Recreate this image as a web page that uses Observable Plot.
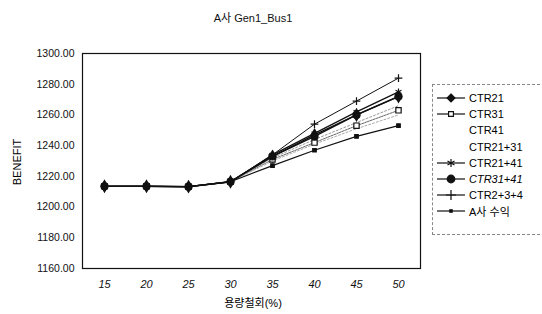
<!DOCTYPE html>
<html><head><meta charset="utf-8">
<script src="https://cdn.jsdelivr.net/npm/d3@7"></script>
<script src="https://cdn.jsdelivr.net/npm/@observablehq/plot@0.6"></script>
<style>
body{margin:0;background:#fff;font-family:"Liberation Sans","Noto Sans CJK KR",sans-serif;}
#wrap{position:relative;width:542px;height:314px;}
#title{position:absolute;left:0;width:506px;top:9px;text-align:center;font-size:11px;color:#111;}
#ylab{position:absolute;top:162px;transform:translate(-50%,-50%) rotate(-90deg);transform-origin:center;font-size:11px;left:17px;white-space:nowrap;}
#xlab{position:absolute;left:0;width:506px;top:294px;text-align:center;font-size:11px;}
#legend{position:absolute;left:432px;top:84px;width:108px;height:151px;border:1px dashed #888;border-right:none;box-sizing:border-box;}
.li{position:absolute;left:4px;height:16px;display:flex;align-items:center;font-size:11px;white-space:nowrap;}
.li svg{margin-right:2px;}
#plot{position:absolute;left:0;top:0;}
</style></head>
<body><div id="wrap"><div id="plot"></div><div id="title">A사 Gen1_Bus1</div><div id="ylab">BENEFIT</div><div id="xlab">용량철회(%)</div><div id="legend"></div></div>
<script>
const capacity = [15, 20, 25, 30, 35, 40, 45, 50];
const yTicks = [1160, 1180, 1200, 1220, 1240, 1260, 1280, 1300];
const seriesNames = ["CTR21", "CTR31", "CTR41", "CTR21+31", "CTR21+41", "CTR31+41", "CTR2+3+4", "A사 수익"];
const ctr21    = [1213.5, 1213.5, 1213.3, 1216.5, 1233, 1247, 1260, 1272];
const ctr31    = [1213.5, 1213.5, 1213.3, 1216.5, 1231, 1242, 1253, 1263];
const ctr41    = [1213.5, 1213.5, 1213.3, 1216.5, 1230, 1241, 1251, 1260];
const ctr21_31 = [1213.5, 1213.5, 1213.3, 1216.5, 1232, 1244, 1255, 1266];
const ctr21_41 = [1213.5, 1213.5, 1213.3, 1216.5, 1234, 1248, 1262, 1275];
const ctr31_41 = [1213.5, 1213.5, 1213.3, 1216.5, 1233, 1246, 1260, 1272];
const ctr234   = [1213.5, 1213.5, 1213.3, 1216.5, 1234, 1254, 1269, 1284];
const aRevenue = [1213.5, 1213.5, 1213.3, 1216.5, 1227, 1237, 1246, 1253];
const seriesValues = [ctr21, ctr31, ctr41, ctr21_31, ctr21_41, ctr31_41, ctr234, aRevenue];

const styles = [
  {stroke:"#111", sw:1.3, dash:null, symbol:"diamond", fill:"#111", r:3.5},
  {stroke:"#666", sw:1, dash:"2,1", symbol:"square", fill:"#fff", r:3},
  {stroke:"#aaa", sw:1, dash:"2,2", symbol:null},
  {stroke:"#999", sw:1, dash:"2,2", symbol:null},
  {stroke:"#111", sw:1.3, dash:null, symbol:"asterisk", fill:"none", r:3.2},
  {stroke:"#111", sw:1.5, dash:null, symbol:"circle", fill:"#111", r:3.5},
  {stroke:"#111", sw:1, dash:null, symbol:"plus", fill:"none", r:2.6},
  {stroke:"#111", sw:1.2, dash:null, symbol:"square", fill:"#111", r:2}
];

const rows = [];
seriesNames.forEach((s, i) => seriesValues[i].forEach((v, j) => rows.push({series: s, x: capacity[j], y: v, i})));

const marks = [
  Plot.frame({stroke:"#111", strokeWidth:1.2}),
  Plot.axisY({ticks: yTicks, tickFormat: d3.format(".2f"), tickSize: 0, tickPadding: 8, fontSize: 10.5, fill:"#111"}),
  Plot.axisX({tickSize: 0, tickPadding: 12, fontSize: 11, fontStyle: "italic", fill:"#111"})
];
seriesNames.forEach((s, i) => {
  const st = styles[i];
  const d = rows.filter(r => r.i === i);
  marks.push(Plot.line(d, {x:"x", y:"y", stroke: st.stroke, strokeWidth: st.sw, strokeDasharray: st.dash || undefined}));
});
seriesNames.forEach((s, i) => {
  const st = styles[i];
  if (!st.symbol) return;
  const d = rows.filter(r => r.i === i);
  marks.push(Plot.dot(d, {x:"x", y:"y", symbol: st.symbol, r: st.r, fill: st.fill, stroke: "#111", strokeWidth: 1.2}));
});

const chart = Plot.plot({
  width: 542, height: 314,
  marginLeft: 82, marginRight: 122, marginTop: 53, marginBottom: 46,
  style: {fontFamily: '"Liberation Sans","Noto Sans CJK KR",sans-serif', background: "#fff"},
  x: {type: "point", domain: capacity, padding: 0.5, label: null},
  y: {domain: [1160, 1300], label: null},
  marks
});
document.getElementById("plot").appendChild(chart);

// legend
const leg = document.getElementById("legend");
const symPaths = {
  diamond: d3.symbol(d3.symbolDiamond2, 40)(),
  square: d3.symbol(d3.symbolSquare2, 30)(),
  asterisk: d3.symbol(d3.symbolAsterisk, 45)(),
  circle: d3.symbol(d3.symbolCircle, 45)(),
  plus: d3.symbol(d3.symbolPlus, 35)()
};
seriesNames.forEach((s, i) => {
  const st = styles[i];
  const div = document.createElement("div");
  div.className = "li";
  div.style.top = (5 + i * 16.2) + "px";
  let inner = "";
  if (st.symbol) {
    const size = st.symbol === "square" && i === 7 ? 0.6 : 1;
    inner = `<line x1="0" y1="8" x2="28" y2="8" stroke="#111" stroke-width="1.2"/>` +
      `<path d="${symPaths[st.symbol]}" transform="translate(14,8) scale(${size})" fill="${st.fill}" stroke="#111" stroke-width="1.2"/>`;
  }
  div.innerHTML = `<svg width="30" height="16">${inner}</svg><span style="${i===5?'font-style:italic':''}">${s}</span>`;
  leg.appendChild(div);
});
</script></body></html>
